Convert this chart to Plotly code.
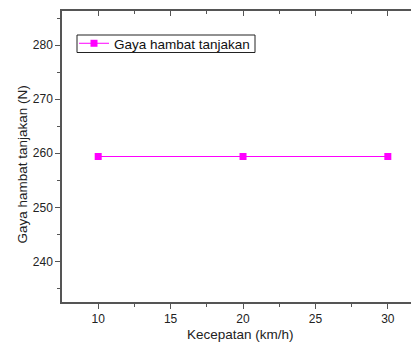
import plotly.graph_objects as go

speed = [10, 20, 30]
force = [259.4, 259.4, 259.4]
series_name = "Gaya hambat tanjakan"
x_title = "Kecepatan (km/h)"
y_title = "Gaya hambat tanjakan (N)"

MAG = "#ff00ff"
AX = "#555555"
FONT = "Liberation Sans, Arial, sans-serif"

fig = go.Figure()
fig.add_trace(go.Scatter(
    x=speed, y=force, mode="lines+markers", name=series_name,
    line=dict(color=MAG, width=1),
    marker=dict(symbol="square", size=7, color=MAG),
))
fig.add_trace(go.Scatter(x=speed, y=force, xaxis="x2", mode="lines",
                         line=dict(width=0), showlegend=False, hoverinfo="skip",
                         opacity=0))

xr = [7.5, 31.6]
W, H = 411, 342
L, R, T, B = 62, 0, 11, 40
pw, ph = W - L - R, H - T - B

def px(x):
    return (x - L) / pw

def py(y):
    return (H - B - y) / ph

fig.update_layout(
    width=W, height=H,
    margin=dict(l=L, r=R, t=T, b=B, autoexpand=False),
    paper_bgcolor="white", plot_bgcolor="white",
    font=dict(family=FONT, size=12, color="#222222"),
    showlegend=True,
    legend=dict(x=px(74), y=py(43.5), xanchor="left", yanchor="middle",
                borderwidth=0, bgcolor="rgba(0,0,0,0)",
                font=dict(size=13.5, color="#111111"),
                tracegroupgap=0, itemwidth=30),
    shapes=[dict(type="rect", xref="paper", yref="paper",
                 x0=px(77), x1=px(255), y0=py(52.5), y1=py(35),
                 line=dict(color="#222222", width=1), fillcolor="rgba(0,0,0,0)")],
    annotations=[
        dict(text=x_title, xref="paper", yref="paper", x=px(240), y=py(342.5),
             xanchor="center", yanchor="bottom", showarrow=False, borderpad=0,
             font=dict(size=13.5, color="#222222")),
        dict(text=y_title, xref="paper", yref="paper", x=px(21.5), y=py(165),
             xanchor="center", yanchor="middle", showarrow=False, textangle=-90,
             font=dict(size=13.5, color="#222222")),
    ],
    xaxis=dict(range=xr, tickvals=[10, 15, 20, 25, 30], showgrid=False,
               zeroline=False, showline=True, linecolor=AX, linewidth=1.5,
               ticks="outside", ticklen=5, tickcolor=AX, tickwidth=1,
               automargin=False, ticklabelstandoff=0,
               minor=dict(tickvals=[12.5, 17.5, 22.5, 27.5], ticks="outside",
                          ticklen=3, tickcolor=AX)),
    xaxis2=dict(range=xr, overlaying="x", side="top", tickvals=[10, 15, 20, 25, 30],
                showticklabels=False, showgrid=False, zeroline=False,
                showline=True, linecolor=AX, linewidth=1.5, automargin=False,
                ticks="inside", ticklen=5, tickcolor=AX,
                minor=dict(tickvals=[12.5, 17.5, 22.5, 27.5], ticks="inside",
                           ticklen=3, tickcolor=AX)),
    yaxis=dict(range=[232.5, 286.3], tickvals=[240, 250, 260, 270, 280],
               showgrid=False, zeroline=False, showline=True, linecolor=AX,
               linewidth=1.5, ticks="outside", ticklen=5, tickcolor=AX,
               automargin=False,
               minor=dict(tickvals=[235, 245, 255, 265, 275, 285], ticks="outside",
                          ticklen=3, tickcolor=AX)),
)

fig.write_html("out.html")
